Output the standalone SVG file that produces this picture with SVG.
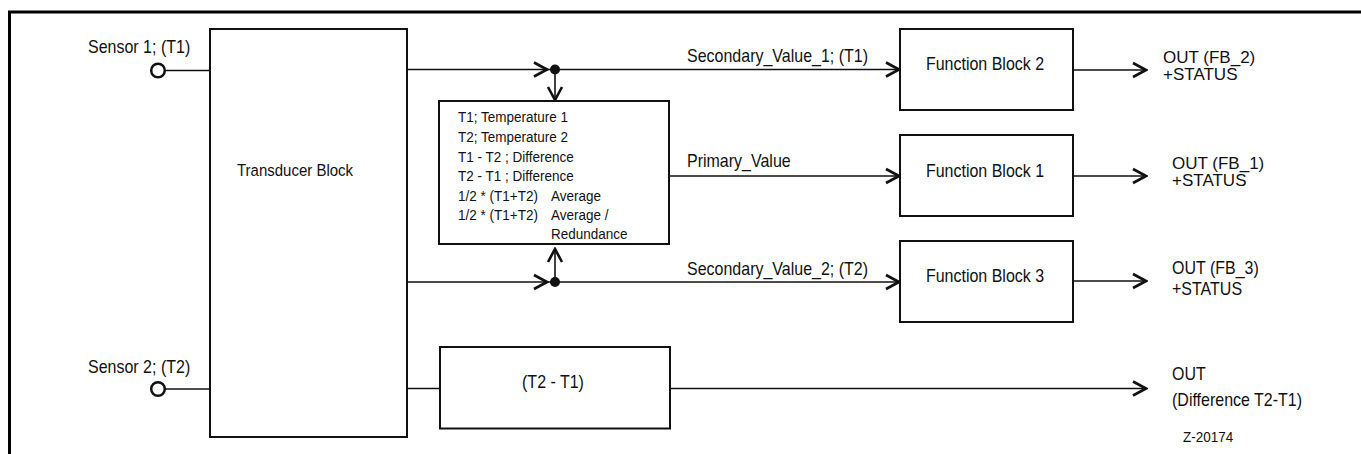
<svg xmlns="http://www.w3.org/2000/svg" width="1361" height="454" viewBox="0 0 1361 454">
<style>
  .box { fill: #fff; stroke: #111; stroke-width: 2; }
  .ln { fill: none; stroke: #111; stroke-width: 1.6; }
  .t { font-family: "Liberation Sans", Arial, sans-serif; font-size: 16px; fill: #111; }
  .s { font-size: 13.5px; }
  .w { font-size: 17px; }
  .m { text-anchor: middle; }
</style>
<defs>
  <marker id="chev" viewBox="-15 -9 17 18" refX="0" refY="0" markerWidth="17" markerHeight="18" markerUnits="userSpaceOnUse" orient="auto">
    <path d="M-13,-7 L0,0 L-13,7" fill="none" stroke="#111" stroke-width="2.6"/>
  </marker>
</defs>
<rect width="1361" height="454" fill="#fff"/>
<path d="M9.5,454 V12 H1361" fill="none" stroke="#000" stroke-width="3"/>

<g id="sensor1">
  <circle cx="158" cy="70.5" r="6.8" fill="#fff" stroke="#111" stroke-width="2.5"/>
  <text class="t" transform="translate(88,53) scale(1,1.15)">Sensor 1; (T1)</text>
</g>
<g id="sensor2">
  <circle cx="158" cy="389" r="6.8" fill="#fff" stroke="#111" stroke-width="2.5"/>
  <text class="t" transform="translate(88,372.5) scale(1,1.15)">Sensor 2; (T2)</text>
</g>
<g id="transducer">
  <rect class="box" x="210" y="29" width="197" height="408"/>
  <text class="t m" font-size="15" transform="translate(295,176) scale(1,1.15)" style="font-size:15px">Transducer Block</text>
</g>
<g id="calc">
  <rect class="box" x="439" y="101" width="230" height="143"/>
  <text class="t s" transform="translate(458,122) scale(1,1.1)">T1; Temperature 1</text>
  <text class="t s" transform="translate(458,141.5) scale(1,1.1)">T2; Temperature 2</text>
  <text class="t s" transform="translate(458,161.5) scale(1,1.1)">T1 - T2 ; Difference</text>
  <text class="t s" transform="translate(458,181) scale(1,1.1)">T2 - T1 ; Difference</text>
  <text class="t s" transform="translate(458,200.5) scale(1,1.1)">1/2 * (T1+T2)<tspan x="93">Average</tspan></text>
  <text class="t s" transform="translate(458,220) scale(1,1.1)">1/2 * (T1+T2)<tspan x="93">Average /</tspan></text>
  <text class="t s" transform="translate(551,239) scale(1,1.1)">Redundance</text>
</g>
<g id="fb2">
  <rect class="box" x="900" y="29" width="173" height="81"/>
  <text class="t m" transform="translate(985,70) scale(1,1.2)">Function Block 2</text>
</g>
<g id="fb1">
  <rect class="box" x="900" y="135" width="173" height="81"/>
  <text class="t m" transform="translate(985,177) scale(1,1.2)">Function Block 1</text>
</g>
<g id="fb3">
  <rect class="box" x="900" y="241" width="173" height="81"/>
  <text class="t m" transform="translate(985,282) scale(1,1.2)">Function Block 3</text>
</g>
<g id="diff">
  <rect class="box" x="440" y="347" width="230" height="81.5"/>
  <text class="t m" transform="translate(553,388) scale(1,1.15)">(T2 - T1)</text>
</g>
<g id="outputs">
  <text class="t w" x="1163" y="62.5">OUT (FB_2)</text>
  <text class="t w" x="1163" y="80">+STATUS</text>
  <text class="t w" x="1172" y="168.5">OUT (FB_1)</text>
  <text class="t w" x="1172" y="186">+STATUS</text>
  <text class="t" transform="translate(1172,273.5) scale(1,1.15)">OUT (FB_3)</text>
  <text class="t" transform="translate(1172,295) scale(1,1.15)">+STATUS</text>
  <text class="t" transform="translate(1172,380) scale(1,1.15)">OUT</text>
  <text class="t" transform="translate(1172,406) scale(1,1.15)">(Difference T2-T1)</text>
  <text class="t s" transform="translate(1183,441.5) scale(1,1.12)">Z-20174</text>
</g>
<g id="connectors">
  <line class="ln" x1="165" y1="70.5" x2="210" y2="70.5"/>
  <line class="ln" x1="165" y1="389" x2="210" y2="389"/>
  <line class="ln" x1="407" y1="69.5" x2="547" y2="69.5" marker-end="url(#chev)"/>
  <line class="ln" x1="547" y1="69.5" x2="899" y2="69.5" marker-end="url(#chev)"/>
  <circle cx="555" cy="69.5" r="5" fill="#111"/>
  <line class="ln" x1="555" y1="69.5" x2="555" y2="100" marker-end="url(#chev)"/>
  <text class="t" transform="translate(687,62) scale(1,1.15)">Secondary_Value_1; (T1)</text>
  <line class="ln" x1="669" y1="176" x2="899" y2="176" marker-end="url(#chev)"/>
  <text class="t" transform="translate(687,167) scale(1,1.15)">Primary_Value</text>
  <line class="ln" x1="407" y1="282" x2="547" y2="282" marker-end="url(#chev)"/>
  <line class="ln" x1="547" y1="282" x2="899" y2="282" marker-end="url(#chev)"/>
  <circle cx="555" cy="282" r="5" fill="#111"/>
  <line class="ln" x1="555" y1="282" x2="555" y2="249" marker-end="url(#chev)"/>
  <text class="t" transform="translate(687,274.5) scale(1,1.15)">Secondary_Value_2; (T2)</text>
  <line class="ln" x1="1073" y1="70" x2="1146" y2="70" marker-end="url(#chev)"/>
  <line class="ln" x1="1073" y1="176" x2="1146" y2="176" marker-end="url(#chev)"/>
  <line class="ln" x1="1073" y1="281" x2="1146" y2="281" marker-end="url(#chev)"/>
  <line class="ln" x1="407" y1="388.5" x2="440" y2="388.5"/>
  <line class="ln" x1="670" y1="388.5" x2="1146" y2="388.5" marker-end="url(#chev)"/>
</g>
</svg>
